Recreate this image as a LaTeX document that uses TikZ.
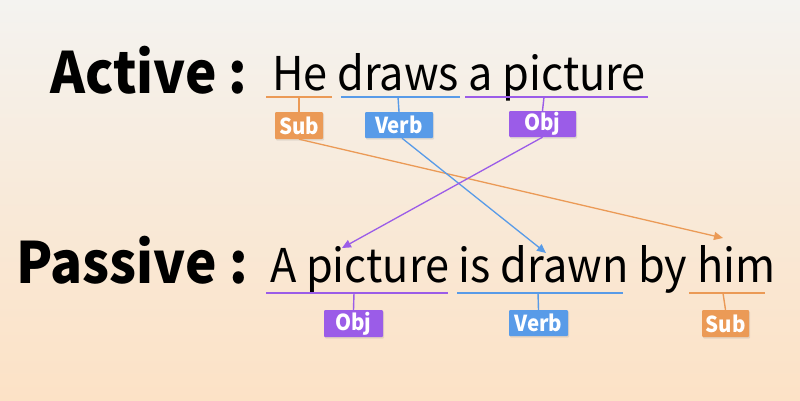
\documentclass[tikz,border=0pt]{standalone}
\usepackage{fontspec}
\setmainfont[FakeStretch=0.93]{Noto Sans CJK SC}
\usetikzlibrary{arrows.meta,shadows}
\definecolor{cSub}{RGB}{235,154,86}
\definecolor{cVerb}{RGB}{88,155,232}
\definecolor{cObj}{RGB}{155,92,232}
\definecolor{bgTop}{RGB}{244,243,240}
\definecolor{bgBot}{RGB}{252,226,198}
\tikzset{
  title/.style={anchor=base west, inner sep=0pt, font=\fontsize{57}{64}\selectfont\bfseries},
  sentence/.style={anchor=base west, inner sep=0pt, font=\fontsize{46.5}{52}\selectfont},
  tag/.style={fill=#1, text=white, font=\fontsize{22}{24}\selectfont\bfseries, inner sep=0pt, rounded corners=1pt,
    drop shadow={opacity=0.18, shadow xshift=1pt, shadow yshift=-1.5pt}},
  uline/.style={draw=#1, line width=1.4pt},
  arr/.style={draw=#1, line width=1.3pt, -{Triangle[length=9pt,width=8pt]}}
}
\begin{document}
\begin{tikzpicture}[x=1pt,y=-1pt]
\useasboundingbox (0,0) rectangle (800,400);
\fill[top color=bgTop, bottom color=bgBot, middle color=bgBot!55!bgTop] (0,0) rectangle (800,400);

% titles
\node[title] (act) at (50,93) {Active :};
\node[title] (pas) at (16,283) {Passive :};
\node[sentence] (s1) at (272,90) {He draws a picture};
\node[sentence] (s2) at (270,282) {A picture is drawn by him};

% Active underlines
\draw[uline=cSub] (266,97) -- (332,97);
\draw[uline=cVerb] (341,97) -- (460,97);
\draw[uline=cObj] (465,97) -- (648,97);
\coordinate (aSubT) at (299,97);
\coordinate (aVerbT) at (398,97);
\coordinate (aObjT) at (544,97);

\node[tag=cSub, minimum width=48pt, minimum height=27pt] (aSub) at (299,125.5) {Sub};
\node[tag=cVerb, minimum width=68pt, minimum height=26pt] (aVerb) at (399,125) {Verb};
\node[tag=cObj, minimum width=67pt, minimum height=26pt] (aObj) at (542.5,124) {Obj};

\draw[uline=cSub] (aSubT) -- (aSub.north);
\draw[uline=cVerb] (aVerbT) -- (aVerb.north);
\draw[uline=cObj] (aObjT) -- (aObj.north);

% Passive underlines
\draw[uline=cObj] (266,293) -- (448,293);
\draw[uline=cVerb] (457,293) -- (623,293);
\draw[uline=cSub] (689,293) -- (765,293);
\coordinate (pObjT) at (354,293);
\coordinate (pVerbT) at (538,293);
\coordinate (pSubT) at (723,293);

\node[tag=cObj, minimum width=59pt, minimum height=27pt] (pObj) at (353.5,323.5) {Obj};
\node[tag=cVerb, minimum width=59pt, minimum height=26pt] (pVerb) at (538.5,323) {Verb};
\node[tag=cSub, minimum width=47pt, minimum height=27pt] (pSub) at (725.5,323.5) {Sub};

\draw[uline=cObj] (pObjT) -- (pObj.north);
\draw[uline=cVerb] (pVerbT) -- (pVerb.north);
\draw[uline=cSub] (pSubT) -- (pSub.north);

% arrows
\coordinate (eSub) at (723,238);
\coordinate (eVerb) at (546,253);
\coordinate (eObj) at (342,248);
\draw[arr=cSub] (aSub.south) -- (eSub);
\draw[arr=cVerb] ([xshift=3pt]aVerb.south) -- (eVerb);
\draw[arr=cObj] (aObj.south) -- (eObj);
\end{tikzpicture}
\end{document}
